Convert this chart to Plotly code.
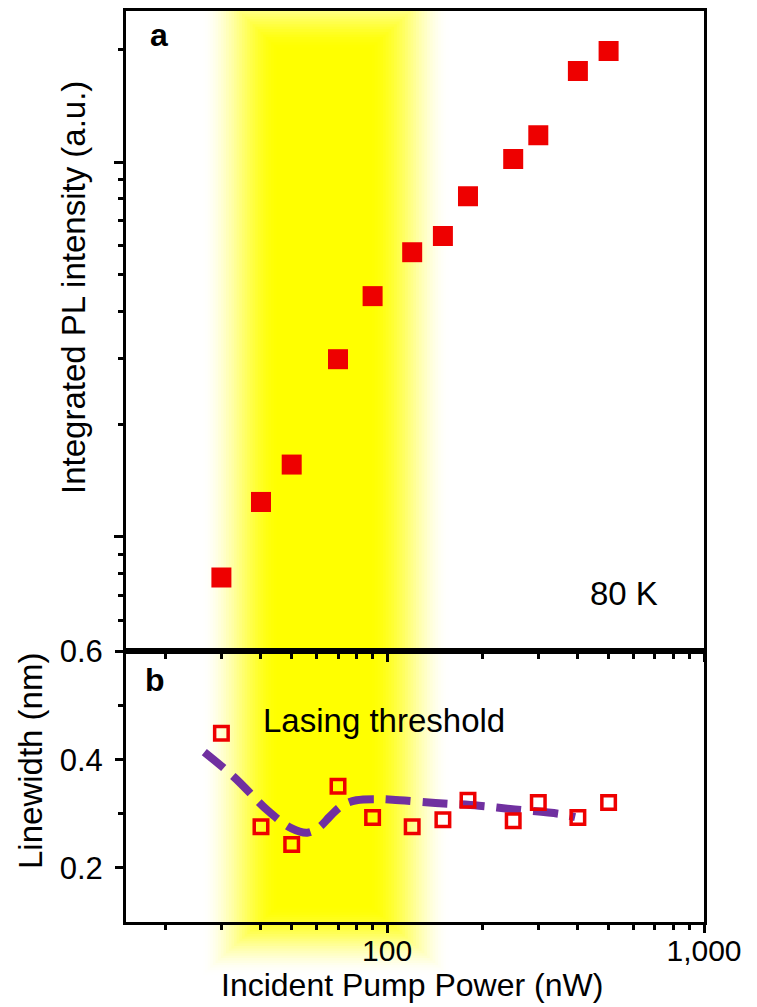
import math
import plotly.graph_objects as go

# ---------------- data ----------------
power_nw = [30, 40, 50, 70, 90, 120, 150, 180, 250, 300, 400, 500]
pl_intensity = [780, 1240, 1560, 2980, 4390, 5750, 6350, 8110, 10200, 11800, 17500, 19800]
linewidth_nm = [0.449, 0.276, 0.243, 0.351, 0.293, 0.276, 0.289, 0.325, 0.287, 0.321, 0.293, 0.321]

fit_power_nw = [26.5, 33, 42, 50, 56, 61, 66, 72, 80, 94, 104, 142, 195, 253, 348, 392]
fit_linewidth_nm = [0.414, 0.367, 0.306, 0.273, 0.265, 0.275, 0.295, 0.315, 0.325, 0.327,
                    0.326, 0.320, 0.315, 0.308, 0.300, 0.294]

x_tick_vals = [100, 1000]
x_tick_text = ["100", "1,000"]
x_minor_vals = [20, 30, 40, 50, 60, 70, 80, 90, 200, 300, 400, 500, 600, 700, 800, 900]

y1_major_vals = [1e3, 1e4]
y1_minor_vals = [600, 700, 800, 900, 2000, 3000, 4000, 5000, 6000, 7000, 8000, 9000, 20000]

y2_tick_vals = [0.2, 0.4, 0.6]
y2_tick_text = ["0.2", "0.4", "0.6"]
y2_minor_vals = [0.3, 0.5]

# lasing threshold band (nW): outer-left, core-left, core-right, outer-right
band_x = [26.1, 45.6, 87.8, 157.0]

# ---------------- layout geometry ----------------
OFF = 8                      # default page (body) margin of the browser
W, H = 757 - OFF, 1007 - OFF
ML, MR, MT, MB = 126 - OFF, 53, 11 - OFF, 85
SPLIT = 0.297
FONT = "Liberation Sans, Arial, sans-serif"
RED = "#EE0000"
PURPLE = "#7030A0"
PLOT_W = W - ML - MR
PLOT_H = H - MT - MB


def paper(px, py):
    """page pixel -> paper fraction"""
    return (px - OFF - ML) / PLOT_W, (OFF + H - MB - py) / PLOT_H


fig = go.Figure()

fig.add_trace(go.Scatter(
    x=power_nw, y=pl_intensity, mode="markers", xaxis="x", yaxis="y",
    marker=dict(symbol="square", size=20, color=RED, line=dict(width=0)),
    showlegend=False))

fig.add_trace(go.Scatter(
    x=fit_power_nw, y=fit_linewidth_nm, mode="lines", xaxis="x2", yaxis="y2",
    line=dict(color=PURPLE, width=8, dash="25px,12px", shape="spline", smoothing=1.0),
    showlegend=False))

fig.add_trace(go.Scatter(
    x=power_nw, y=linewidth_nm, mode="markers", xaxis="x2", yaxis="y2",
    marker=dict(symbol="square-open", size=13.5, color=RED, line=dict(width=3.5, color=RED)),
    showlegend=False))

# soft-edged yellow band built from stacked translucent rectangles
N = 30
lo_out, lo_core, hi_core, hi_out = [math.log10(v) for v in band_x]
top_out = paper(0, -25)[1]
top_core = paper(0, 50)[1]
bot_core = paper(0, 905)[1]
bot_out = paper(0, 975)[1]


def smooth(s):
    return s * s * (3 - 2 * s)


shapes = []
prev = 0.0
for k in range(1, N + 1):
    t = (k - 1) / (N - 1)
    level = smooth(k / N)
    alpha = 1.0 if k == N else 1 - (1 - level) / (1 - prev)
    prev = level
    x0 = 10 ** (lo_out + (lo_core - lo_out) * t)
    x1 = 10 ** (hi_out + (hi_core - hi_out) * t)
    y1 = top_out + (top_core - top_out) * t
    y0 = bot_out + (bot_core - bot_out) * t
    shapes.append(dict(type="rect", xref="x2", yref="paper", x0=x0, x1=x1, y0=y0, y1=y1,
                       fillcolor="#FFFF00", opacity=max(min(alpha, 1.0), 0.0),
                       line=dict(width=0), layer="below"))

axis_common = dict(
    type="log", range=[math.log10(15), 3], showline=True, linewidth=3, linecolor="black",
    mirror=True, showgrid=False, zeroline=False, ticks="outside", ticklen=8, tickwidth=3,
    tickcolor="black", tickmode="array", tickvals=x_tick_vals,
    minor=dict(tickmode="array", tickvals=x_minor_vals, ticks="outside", ticklen=5,
               tickwidth=3, tickcolor="black", showgrid=False),
)

fig.update_layout(
    width=W, height=H,
    margin=dict(l=ML, r=MR, t=MT, b=MB, pad=0, autoexpand=False),
    paper_bgcolor="white", plot_bgcolor="rgba(0,0,0,0)",
    font=dict(family=FONT, color="black", size=30),
    showlegend=False,
    xaxis=dict(anchor="y", domain=[0, 1], showticklabels=False, **axis_common),
    xaxis2=dict(anchor="y2", domain=[0, 1], showticklabels=True, ticktext=x_tick_text,
                tickfont=dict(family=FONT, size=30, color="black"), ticklabelstandoff=-8,
                **axis_common),
    yaxis=dict(
        anchor="x", domain=[SPLIT, 1], type="log",
        range=[math.log10(495), math.log10(25300)],
        showline=True, linewidth=3, linecolor="black", mirror=True,
        showgrid=False, zeroline=False, ticks="outside", ticklen=9, tickwidth=3,
        tickcolor="black", tickmode="array", tickvals=y1_major_vals, showticklabels=False,
        minor=dict(tickmode="array", tickvals=y1_minor_vals, ticks="outside", ticklen=5,
                   tickwidth=3, tickcolor="black", showgrid=False)),
    yaxis2=dict(
        anchor="x2", domain=[0, SPLIT], range=[0.1, 0.6],
        showline=True, linewidth=3, linecolor="black", mirror=True,
        showgrid=False, zeroline=False, ticks="outside", ticklen=8, tickwidth=3,
        tickcolor="black", tickmode="array", tickvals=y2_tick_vals, ticktext=y2_tick_text,
        tickfont=dict(family=FONT, size=31, color="black"), ticklabelstandoff=6,
        minor=dict(tickmode="array", tickvals=y2_minor_vals, ticks="outside", ticklen=5,
                   tickwidth=3, tickcolor="black", showgrid=False)),
    shapes=shapes,
)


def ann(text, px, py, size=33, bold=False, angle=0):
    x, y = paper(px, py)
    fig.add_annotation(
        text=f"<b>{text}</b>" if bold else text, xref="paper", yref="paper", x=x, y=y,
        xanchor="center", yanchor="middle", showarrow=False, textangle=angle,
        font=dict(family=FONT, size=size, color="black"))


ann("a", 159, 35, size=32, bold=True)
ann("b", 155, 680, size=32, bold=True)
ann("80 K", 624, 593, size=33)
ann("Lasing threshold", 384, 720, size=33)
ann("Integrated PL intensity (a.u.)", 73, 288, size=33, angle=-90)
ann("Linewidth (nm)", 30, 761, size=33, angle=-90)
ann("Incident Pump Power (nW)", 412, 985, size=32)

fig.write_html("out.html")
